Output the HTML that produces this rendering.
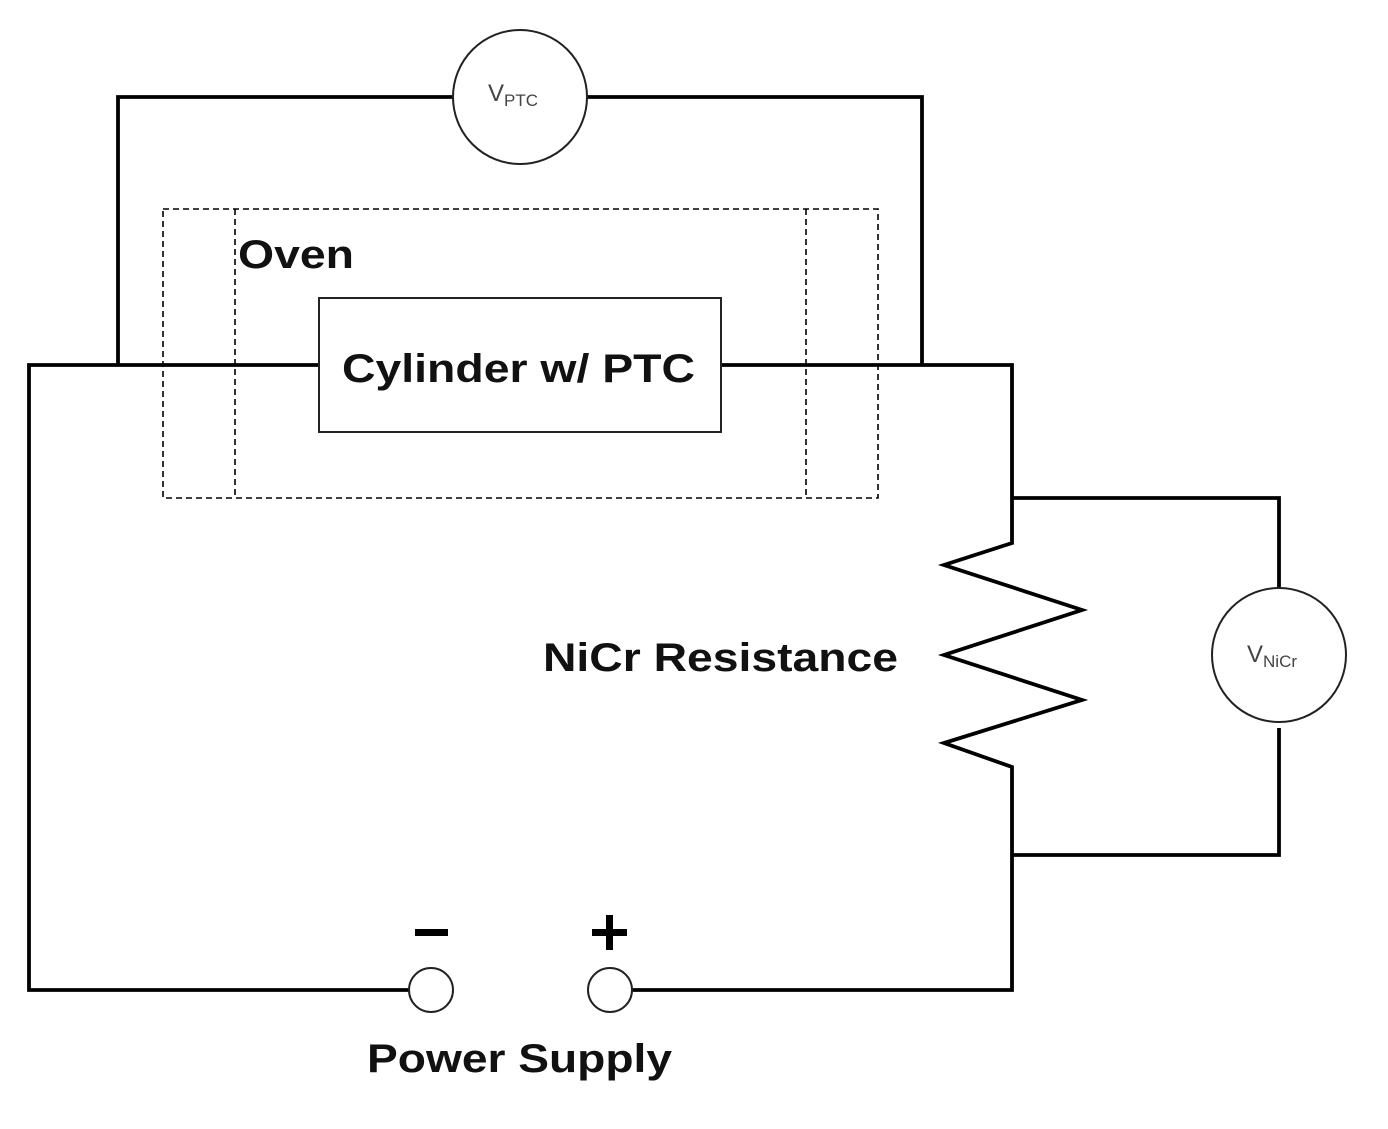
<!DOCTYPE html>
<html><head><style>body{margin:0;background:#fff}svg{display:block}</style></head>
<body>
<svg width="1388" height="1129" viewBox="0 0 1388 1129" xmlns="http://www.w3.org/2000/svg" font-family="Liberation Sans, sans-serif">
<g fill="none" stroke="#000" stroke-width="3.8">
<polyline points="453,97 118,97 118,365"/>
<polyline points="587,97 922,97 922,365"/>
<polyline points="319,365 29,365 29,990 409,990"/>
<polyline points="721,365 1012,365 1012,543 944,565 1082,610 944,655 1082,700 944,743 1012,767 1012,990 632,990"/>
<polyline points="1012,498 1279,498 1279,588"/>
<polyline points="1279,728 1279,855 1012,855"/>
</g>
<g fill="none" stroke="#000" stroke-width="1.6" stroke-dasharray="6,4">
<rect x="163" y="209" width="715" height="289"/>
<line x1="235" y1="209" x2="235" y2="498"/>
<line x1="806" y1="209" x2="806" y2="498"/>
</g>
<rect x="319" y="298" width="402" height="134" fill="#fff" stroke="#222" stroke-width="2"/>
<circle cx="520" cy="97" r="67" fill="#fff" stroke="#222" stroke-width="2"/>
<circle cx="1279" cy="655" r="67" fill="#fff" stroke="#222" stroke-width="2"/>
<circle cx="431" cy="990" r="22" fill="#fff" stroke="#222" stroke-width="2"/>
<circle cx="610" cy="990" r="22" fill="#fff" stroke="#222" stroke-width="2"/>
<rect x="415" y="929" width="33" height="7" fill="#000"/>
<rect x="592" y="929" width="35" height="7" fill="#000"/>
<rect x="606" y="915" width="7" height="35" fill="#000"/>
<g font-weight="bold" font-size="40" fill="#111">
<text x="238" y="268" textLength="116" lengthAdjust="spacingAndGlyphs">Oven</text>
<text x="342" y="382" textLength="353" lengthAdjust="spacingAndGlyphs">Cylinder w/ PTC</text>
<text x="543" y="671" textLength="355" lengthAdjust="spacingAndGlyphs">NiCr Resistance</text>
<text x="367" y="1072" textLength="305" lengthAdjust="spacingAndGlyphs">Power Supply</text>
</g>
<g fill="#444" font-size="24">
<text x="488" y="101">V<tspan font-size="17" dy="5">PTC</tspan></text>
<text x="1247" y="662">V<tspan font-size="17" dy="5">NiCr</tspan></text>
</g>
</svg>
</body></html>
